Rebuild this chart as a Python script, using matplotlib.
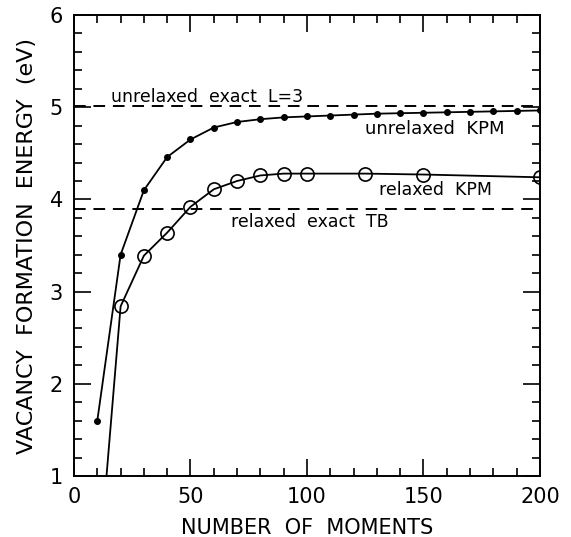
import matplotlib.pyplot as plt
from matplotlib.ticker import MultipleLocator

moments_unrel = [10, 20, 30, 40, 50, 60, 70, 80, 90, 100, 110, 120, 130, 140, 150, 160, 170, 180, 190, 200]
energy_unrel = [1.60, 3.40, 4.10, 4.46, 4.65, 4.78, 4.84, 4.87, 4.89, 4.90, 4.91, 4.92, 4.93, 4.935, 4.94, 4.945, 4.95, 4.955, 4.96, 4.965]

moments_rel = [10, 20, 30, 40, 50, 60, 70, 80, 90, 100, 125, 150, 200]
energy_rel = [-0.2, 2.84, 3.39, 3.64, 3.92, 4.11, 4.20, 4.26, 4.28, 4.28, 4.28, 4.27, 4.24]

exact_unrel = 5.01
exact_rel = 3.90

plt.rcParams['font.family'] = 'DejaVu Sans'

fig = plt.figure(figsize=(5.71, 5.37), dpi=100)
ax = fig.add_axes([0.1296, 0.1136, 0.8161, 0.8584])

ax.axhline(exact_unrel, color='black', lw=1.4, ls=(0, (6, 4)))
ax.axhline(exact_rel, color='black', lw=1.4, ls=(0, (6, 4)))

ax.plot(moments_unrel, energy_unrel, '-o', color='black', lw=1.3, ms=4)
ax.plot(moments_rel, energy_rel, '-o', color='black', lw=1.3, ms=9.5, mfc='none', mew=1.2)

ax.text(16, 5.01, 'unrelaxed  exact  L=3', fontsize=12.5, va='bottom', ha='left')
ax.text(155, 4.76, 'unrelaxed  KPM', fontsize=13, va='center', ha='center')
ax.text(155, 4.10, 'relaxed  KPM', fontsize=12.5, va='center', ha='center')
ax.text(101, 3.75, 'relaxed  exact  TB', fontsize=12.5, va='center', ha='center')

ax.set_xlim(0, 200)
ax.set_ylim(1, 6)
ax.xaxis.set_major_locator(MultipleLocator(50))
ax.xaxis.set_minor_locator(MultipleLocator(10))
ax.yaxis.set_major_locator(MultipleLocator(1))
ax.yaxis.set_minor_locator(MultipleLocator(0.2))
ax.tick_params(which='both', direction='in', top=True, right=True, width=1.2, labelsize=15, pad=8)
ax.tick_params(which='major', length=12)
ax.tick_params(which='minor', length=6)
for s in ax.spines.values():
    s.set_linewidth(1.4)

ax.set_xlabel('NUMBER  OF  MOMENTS', fontsize=15, labelpad=8)
ax.set_ylabel('VACANCY  FORMATION  ENERGY  (eV)', fontsize=16, labelpad=9)

fig.savefig('out.png', dpi=100)
